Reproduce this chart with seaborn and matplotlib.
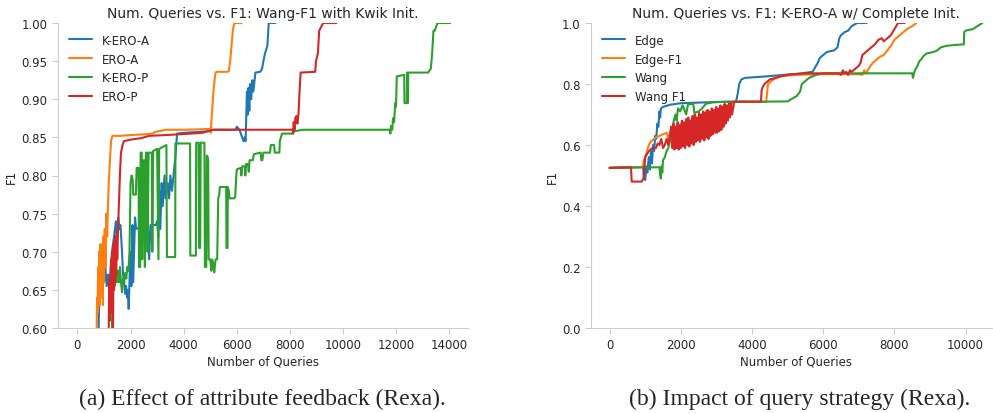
import pandas as pd
import matplotlib
matplotlib.use("Agg")
import matplotlib.pyplot as plt
import seaborn as sns

# ---------- data ----------
# left panel: Wang-F1 with Kwik init
kero_a_x = [790, 810, 850, 900, 950, 1000, 1050, 1100, 1150, 1200, 1250, 1300, 1380, 1450, 1480,
            1540, 1580, 1620, 1680, 1720, 1760, 1800, 1830, 1870, 1900, 1930, 1960, 1990, 2030,
            2070, 2100, 2170, 2210, 2400, 2650, 2700, 2750, 2950, 3000, 3040, 3080, 3120, 3170,
            3210, 3280, 3320, 3400, 3450, 3500, 3560, 3620, 3700, 3750, 4000, 4500, 4900, 5100,
            5950, 6000, 6100, 6180, 6250, 6300, 6330, 6350, 6380, 6410, 6440, 6470, 6500, 6540,
            6580, 6620, 6700, 6880, 6950, 7000, 7060, 7150, 7200, 7450]
kero_a_y = [0.58, 0.62, 0.66, 0.655, 0.67, 0.66, 0.68, 0.655, 0.67, 0.65, 0.68, 0.70, 0.72, 0.74, 0.725,
            0.745, 0.73, 0.735, 0.70, 0.67, 0.66, 0.645, 0.655, 0.64, 0.65, 0.625, 0.66, 0.70, 0.655,
            0.735, 0.66, 0.745, 0.73, 0.732, 0.735, 0.69, 0.735, 0.735, 0.74, 0.72, 0.78, 0.73, 0.79,
            0.76, 0.80, 0.77, 0.79, 0.77, 0.80, 0.78, 0.80, 0.83, 0.855, 0.856, 0.857, 0.858, 0.86,
            0.86, 0.864, 0.86, 0.852, 0.845, 0.85, 0.845, 0.87, 0.91, 0.88, 0.915, 0.885, 0.92, 0.90,
            0.925, 0.91, 0.935, 0.936, 0.94, 0.95, 0.96, 0.97, 1.0, 1.0]

ero_a_x = [720, 740, 760, 780, 800, 820, 840, 860, 880, 900, 920, 940, 960, 980, 1000, 1030, 1060,
           1090, 1120, 1150, 1180, 1210, 1240, 1270, 1320, 1600, 2000, 2500, 2850, 2900, 3200, 3300,
           4000, 4990, 5000, 5020, 5040, 5080, 5120, 5160, 5200, 5250, 5650, 5700, 5750, 5800, 5850,
           5900, 6180]
ero_a_y = [0.58, 0.64, 0.62, 0.68, 0.64, 0.70, 0.63, 0.71, 0.66, 0.70, 0.64, 0.71, 0.63, 0.72, 0.66,
           0.73, 0.68, 0.75, 0.72, 0.76, 0.79, 0.81, 0.83, 0.846, 0.852, 0.852, 0.853, 0.854, 0.855,
           0.857, 0.859, 0.86, 0.86, 0.861, 0.862, 0.856, 0.87, 0.89, 0.91, 0.925, 0.935, 0.936, 0.936,
           0.937, 0.95, 0.97, 0.99, 1.0, 1.0]

kero_p_x = [1290, 1320, 1360, 1400, 1440, 1480, 1520, 1560, 1600, 1640, 1680, 1720, 1760, 1800,
            1840, 1880, 1920, 1960, 2000, 2040, 2080, 2100, 2200, 2230, 2300, 2320, 2360, 2380,
            2420, 2440, 2480, 2520, 2540, 2580, 2620, 2640, 2680, 2800, 2820, 2850, 3000, 3050,
            3080, 3350, 3370, 3680, 3690, 4240, 4250, 4460, 4470, 4560, 4580, 4620, 4640, 4780,
            4800, 4850, 4870, 4900, 4920, 4940, 5000, 5040, 5070, 5110, 5150, 5200, 5260, 5300,
            5340, 5360, 5600, 5610, 5650, 5660, 5700, 5720, 5900, 5940, 5980, 6000, 6150, 6170,
            6200, 6300, 6320, 6350, 6420, 6450, 6480, 6600, 6640, 6900, 6920, 6960, 7000, 7250,
            7280, 7400, 7430, 7600, 7620, 7700, 8100, 8150, 8500, 11750, 11780, 11800, 11850,
            11880, 11920, 11960, 11990, 12020, 12300, 12310, 12400, 12410, 12420, 12440, 12450,
            13200, 13300, 13350, 13400, 13450, 13550, 14030]
kero_p_y = [0.58, 0.64, 0.665, 0.655, 0.67, 0.66, 0.675, 0.66, 0.68, 0.66, 0.647, 0.665, 0.66, 0.672,
            0.665, 0.68, 0.675, 0.70, 0.79, 0.80, 0.795, 0.775, 0.775, 0.81, 0.81, 0.68, 0.68, 0.83,
            0.83, 0.69, 0.82, 0.82, 0.68, 0.83, 0.83, 0.70, 0.83, 0.83, 0.70, 0.832, 0.835, 0.69,
            0.835, 0.84, 0.693, 0.693, 0.842, 0.842, 0.695, 0.695, 0.843, 0.843, 0.705, 0.705, 0.843, 0.843,
            0.68, 0.68, 0.826, 0.825, 0.82, 0.69, 0.69, 0.675, 0.69, 0.685, 0.673, 0.69, 0.69, 0.77,
            0.775, 0.785, 0.785, 0.705, 0.705, 0.785, 0.78, 0.77, 0.77, 0.772, 0.80, 0.808, 0.81, 0.80,
            0.812, 0.812, 0.80, 0.815, 0.815, 0.805, 0.82, 0.82, 0.828, 0.83, 0.82, 0.82, 0.83, 0.83,
            0.84, 0.84, 0.83, 0.83, 0.845, 0.855, 0.855, 0.858, 0.86, 0.86, 0.855, 0.865, 0.86,
            0.875, 0.87, 0.895, 0.89, 0.93, 0.932, 0.895, 0.895, 0.935, 0.895, 0.895, 0.935,
            0.935, 0.94, 0.96, 0.99, 0.99, 1.0, 1.0]

ero_p_x = [1160, 1180, 1200, 1220, 1240, 1260, 1280, 1300, 1320, 1340, 1360, 1380, 1400, 1420, 1440,
           1460, 1480, 1500, 1530, 1560, 1600, 1640, 1700, 1750, 2000, 2400, 2700, 3300, 4300, 4700,
           5100, 8100, 8120, 8140, 8170, 8200, 8240, 8280, 8320, 8360, 8400, 8950, 8980, 9050, 9100,
           9250, 9750]
ero_p_y = [0.58, 0.60, 0.66, 0.61, 0.67, 0.62, 0.69, 0.63, 0.70, 0.59, 0.71, 0.65, 0.715, 0.66, 0.72,
           0.67, 0.725, 0.69, 0.73, 0.76, 0.80, 0.83, 0.84, 0.845, 0.847, 0.849, 0.852, 0.853, 0.855, 0.856,
           0.86, 0.86, 0.855, 0.87, 0.86, 0.875, 0.878, 0.868, 0.88, 0.91, 0.935, 0.936, 0.95, 0.96, 0.99,
           1.0, 1.0]

# right panel: K-ERO-A with complete init
edge_x = [0, 500, 940, 960, 1000, 1030, 1060, 1100, 1130, 1160, 1190, 1220, 1250, 1280, 1310, 1340,
          1370, 1400, 1420, 1440, 1500, 1700, 2000, 2500, 3000, 3550, 3600, 3640, 3700, 3800, 4400,
          4900, 5400, 5700, 5800, 5850, 5900, 6000, 6100, 6300, 6400, 6450, 6500, 6600, 6700, 6800,
          6950, 7220]
edge_y = [0.525, 0.527, 0.528, 0.50, 0.485, 0.53, 0.51, 0.56, 0.52, 0.58, 0.54, 0.60, 0.58, 0.63, 0.62,
          0.67, 0.66, 0.71, 0.69, 0.72, 0.725, 0.732, 0.737, 0.739, 0.741, 0.742, 0.77, 0.80, 0.815,
          0.82, 0.825, 0.83, 0.835, 0.84, 0.86, 0.87, 0.885, 0.895, 0.905, 0.91, 0.92, 0.95, 0.96, 0.97,
          0.975, 0.99, 1.0, 1.0]

edge_f1_x = [0, 900, 940, 960, 1000, 1050, 1100, 1150, 1200, 1300, 1400, 1500, 1600, 1650, 1700, 1750,
             1800, 1850, 1900, 1950, 2000, 2050, 2100, 2150, 2200, 2250, 2300, 2350, 2400, 2450, 2500,
             2550, 2600, 2650, 2700, 2750, 2800, 2850, 2900, 2950, 3000, 3050, 3100, 3150, 3200, 3300,
             3400, 3500, 4400, 4420, 4450, 4600, 4800, 5200, 6000, 7000, 7100, 7150, 7200, 7300, 7400,
             7500, 7600, 7700, 7800, 7900, 8000, 8100, 8200, 8350, 8500, 8620]
edge_f1_y = [0.525, 0.528, 0.53, 0.55, 0.56, 0.58, 0.60, 0.61, 0.615, 0.625, 0.63, 0.635, 0.64, 0.62,
             0.64, 0.60, 0.65, 0.61, 0.66, 0.62, 0.67, 0.60, 0.65, 0.62, 0.66, 0.63, 0.68, 0.64, 0.70,
             0.66, 0.69, 0.64, 0.70, 0.66, 0.71, 0.67, 0.70, 0.65, 0.71, 0.67, 0.72, 0.68, 0.72, 0.69,
             0.73, 0.72, 0.735, 0.742, 0.742, 0.77, 0.80, 0.815, 0.825, 0.83, 0.832, 0.832, 0.83, 0.845,
             0.835, 0.855, 0.87, 0.88, 0.89, 0.895, 0.91, 0.925, 0.945, 0.955, 0.965, 0.98, 0.99, 1.0]

wang_x = [0, 1400, 1420, 1440, 1460, 1480, 1500, 1550, 1600, 1650, 1700, 1750, 1780, 1800, 1850, 1880,
          1920, 1980, 2050, 2150, 2200, 2350, 2380, 2500, 2600, 2700, 2900, 3300, 4300, 5000, 5100,
          5250, 5350, 5400, 5500, 5600, 5700, 5800, 6000, 8500, 8520, 8560, 8600, 8650, 8700, 8750,
          8800, 8900, 9100, 9200, 9300, 9450, 9700, 9950, 9960, 10000, 10200, 10470]
wang_y = [0.525, 0.527, 0.50, 0.49, 0.53, 0.51, 0.55, 0.56, 0.58, 0.59, 0.62, 0.66, 0.64, 0.68, 0.70,
          0.68, 0.72, 0.71, 0.73, 0.70, 0.733, 0.735, 0.705, 0.71, 0.72, 0.735, 0.74, 0.742, 0.742, 0.743,
          0.75, 0.76, 0.775, 0.80, 0.81, 0.82, 0.825, 0.83, 0.835, 0.835, 0.82, 0.84, 0.85, 0.86, 0.875,
          0.88, 0.89, 0.90, 0.905, 0.91, 0.92, 0.925, 0.928, 0.93, 0.97, 0.975, 0.98, 1.0]

wang_f1_x = [0, 600, 620, 900, 950, 980, 1000, 1050, 1100, 1200, 1300, 1350, 1400, 1450, 1500, 1550,
             1600, 1650, 1700, 1730, 1760, 1790, 1820, 1850, 1880, 1910, 1940, 1970, 2000, 2030, 2060,
             2090, 2120, 2150, 2180, 2210, 2240, 2270, 2300, 2330, 2360, 2390, 2420, 2450, 2480, 2510,
             2540, 2570, 2600, 2630, 2660, 2690, 2720, 2750, 2780, 2810, 2840, 2870, 2900, 2930, 2960,
             2990, 3020, 3050, 3080, 3110, 3140, 3170, 3200, 3230, 3260, 3290, 3320, 3350, 3380, 3410,
             3440, 3500, 4250, 4270, 4300, 4350, 4500, 4800, 5000, 5500, 6450, 6500, 6550, 6600, 6650,
             6700, 6750, 6800, 6900, 7000, 7050, 7100, 7150, 7250, 7350, 7450, 7550, 7650, 7700, 7800,
             7900, 8000, 8100, 8290]
wang_f1_y = [0.525, 0.527, 0.48, 0.48, 0.49, 0.53, 0.56, 0.57, 0.58, 0.59, 0.59, 0.605, 0.60, 0.62,
             0.59, 0.60, 0.62, 0.60, 0.64, 0.66, 0.59, 0.67, 0.585, 0.66, 0.59, 0.675, 0.585, 0.665,
             0.59, 0.68, 0.595, 0.675, 0.59, 0.685, 0.60, 0.69, 0.595, 0.68, 0.605, 0.695, 0.60, 0.70,
             0.61, 0.69, 0.615, 0.705, 0.61, 0.70, 0.62, 0.71, 0.615, 0.705, 0.625, 0.715, 0.62, 0.71,
             0.63, 0.72, 0.635, 0.715, 0.64, 0.725, 0.64, 0.72, 0.645, 0.73, 0.65, 0.725, 0.66, 0.735,
             0.67, 0.73, 0.68, 0.735, 0.69, 0.74, 0.70, 0.742, 0.742, 0.78, 0.79, 0.80, 0.815, 0.825,
             0.83, 0.835, 0.835, 0.83, 0.845, 0.835, 0.84, 0.83, 0.845, 0.84, 0.85, 0.86, 0.87, 0.895,
             0.90, 0.91, 0.92, 0.93, 0.945, 0.95, 0.94, 0.95, 0.96, 0.98, 1.0, 1.0]

left_labels = ["K-ERO-A", "ERO-A", "K-ERO-P", "ERO-P"]
right_labels = ["Edge", "Edge-F1", "Wang", "Wang F1"]
palette = ["#1f77b4", "#ff7f0e", "#2ca02c", "#d62728"]


def long_frame(labels, xs, ys):
    parts = [pd.DataFrame({"queries": x, "f1": y, "method": lab})
             for lab, x, y in zip(labels, xs, ys)]
    return pd.concat(parts, ignore_index=True)


left_df = long_frame(left_labels, [kero_a_x, ero_a_x, kero_p_x, ero_p_x],
                     [kero_a_y, ero_a_y, kero_p_y, ero_p_y])
right_df = long_frame(right_labels, [edge_x, edge_f1_x, wang_x, wang_f1_x],
                      [edge_y, edge_f1_y, wang_y, wang_f1_y])

sns.set_style("white", {
    "axes.edgecolor": ".8",
    "xtick.bottom": True,
    "ytick.left": True,
    "xtick.color": ".8",
    "ytick.color": ".8",
})
plt.rcParams.update({
    "font.family": ["DejaVu Sans"],
    "xtick.labelcolor": ".15",
    "ytick.labelcolor": ".15",
    "xtick.labelsize": 8.5,
    "ytick.labelsize": 8.5,
    "axes.labelsize": 8.5,
    "axes.titlesize": 10,
    "axes.labelcolor": ".15",
    "axes.labelpad": 2.5,
    "xtick.major.size": 4,
    "ytick.major.size": 4,
})

fig = plt.figure(figsize=(9.93, 4.14), dpi=100)
ax1 = fig.add_axes([58 / 993, 1 - 329 / 414, 410 / 993, 305 / 414])
ax2 = fig.add_axes([591 / 993, 1 - 329 / 414, 410 / 993, 305 / 414])

for ax, df, labels, title in [
    (ax1, left_df, left_labels, "Num. Queries vs. F1: Wang-F1 with Kwik Init."),
    (ax2, right_df, right_labels, "Num. Queries vs. F1: K-ERO-A w/ Complete Init."),
]:
    sns.lineplot(data=df, x="queries", y="f1", hue="method", hue_order=labels,
                 palette=palette, estimator=None, sort=False, linewidth=1.5, ax=ax)
    ax.set_title(title, color=".15", pad=4)
    ax.set_xlabel("Number of Queries")
    ax.set_ylabel("F1")
    ax.legend(loc="upper left", frameon=False, fontsize=8.5)
    sns.despine(ax=ax)

ax1.set_xlim(-730, 14700)
ax1.set_ylim(0.6, 1.0)
ax1.set_xticks(range(0, 14001, 2000))
ax1.set_yticks([0.60, 0.65, 0.70, 0.75, 0.80, 0.85, 0.90, 0.95, 1.00])
ax1.yaxis.set_major_formatter(plt.FuncFormatter(lambda v, p: f"{v:.2f}"))

ax2.set_xlim(-523, 10993)
ax2.set_ylim(0.0, 1.0)
ax2.set_xticks(range(0, 10001, 2000))
ax2.set_yticks([0.0, 0.2, 0.4, 0.6, 0.8, 1.0])

fig.text(262 / 993, 1 - 405 / 414, "(a) Effect of attribute feedback (Rexa).",
         ha="center", va="baseline", family="Liberation Serif", fontsize=17)
fig.text(800 / 993, 1 - 405 / 414, "(b) Impact of query strategy (Rexa).",
         ha="center", va="baseline", family="Liberation Serif", fontsize=17)

fig.savefig("out.png", dpi=100)
